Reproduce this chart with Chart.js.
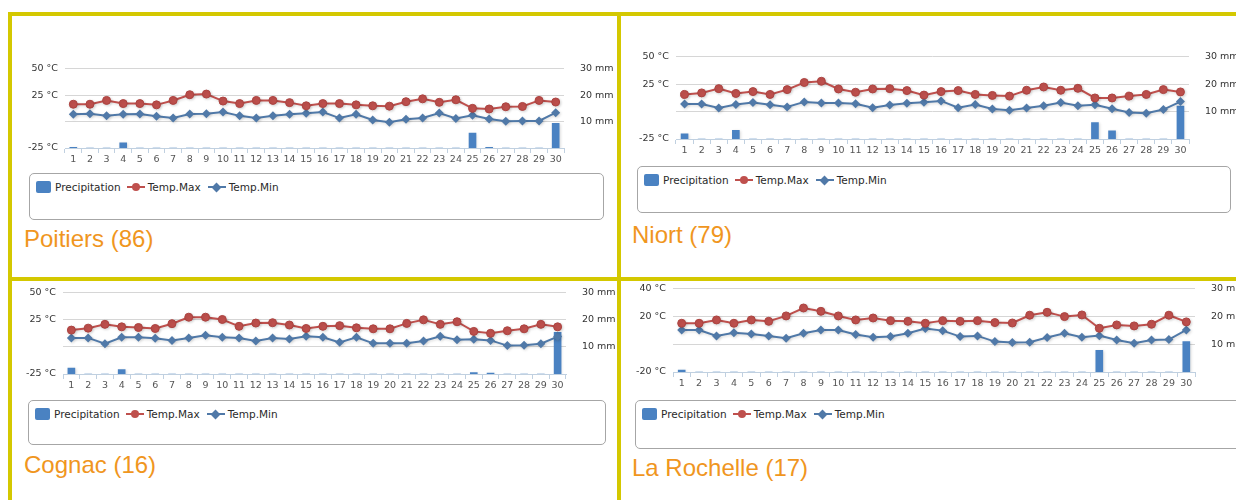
<!DOCTYPE html>
<html>
<head>
<meta charset="utf-8">
<script src="https://cdn.jsdelivr.net/npm/chart.js@4/dist/chart.umd.min.js"></script>
<style>
  html, body { margin: 0; padding: 0; background: #fff; }
  body { width: 1236px; height: 500px; overflow: hidden; position: relative; }
  .frame { position: absolute; background: #D4C800; }
  canvas { position: absolute; }
  .legend { position: absolute; border: 1px solid #A6A6A6; border-radius: 5px; box-sizing: border-box; background: #fff; }
  .items { position: absolute; left: 6px; top: 6px; height: 14px; display: flex; align-items: center; white-space: nowrap;
           font-family: "DejaVu Sans", sans-serif; font-size: 10.5px; color: #2a2a2a; }
  .title { position: absolute; font-family: "Liberation Sans", Arial, sans-serif; font-size: 24px; line-height: 24px; color: #F0961E; white-space: nowrap; }
</style>
</head>
<body>
<script>
const days = ['1', '2', '3', '4', '5', '6', '7', '8', '9', '10', '11', '12', '13', '14', '15',
              '16', '17', '18', '19', '20', '21', '22', '23', '24', '25', '26', '27', '28', '29', '30'];
const seriesNames = ['Precipitation', 'Temp.Max', 'Temp.Min'];
const cityNames = ['Poitiers (86)', 'Niort (79)', 'Cognac (16)', 'La Rochelle (17)'];

// precipitation (mm, right axis), max / min temperature (°C, left axis)
const poitiersRain = [0.3, 0, 0, 2, 0, 0, 0, 0, 0, 0, 0, 0, 0, 0, 0, 0, 0, 0, 0, 0, 0, 0, 0, 0, 5.6, 0.3, 0, 0, 0, 9.3];
const poitiersMax = [16.4, 16.4, 20, 17, 17, 15.8, 20, 25.4, 26, 19.4, 17, 20, 20, 17.9, 14.9, 17, 17, 15.8, 14.9, 14.6, 18.8, 21.5, 18.2, 20.6, 12.5, 11.9, 14, 14.3, 20, 18.5];
const poitiersMin = [6.9, 7.5, 5.4, 6.9, 7.2, 5.1, 3.3, 7.2, 7.5, 9, 5.4, 3.3, 5.4, 6.9, 7.8, 9, 3.3, 6.9, 1.5, -0.6, 2.1, 3.3, 8.1, 3, 6, 2.4, 0.3, 0.6, 0.6, 8.4];

const niortRain = [1.9, 0, 0, 3.2, 0, 0, 0, 0, 0, 0, 0, 0, 0, 0, 0, 0, 0, 0, 0, 0, 0, 0, 0, 0, 6, 3, 0, 0, 0, 12];
const niortMax = [15.6, 17, 20.9, 16.5, 18.2, 15.6, 20, 26.5, 27.6, 20.6, 17.6, 20.6, 20.9, 19.1, 15, 18.2, 19.1, 15.6, 14.7, 14.1, 19.4, 22.4, 19.4, 21.2, 12.4, 12.4, 14.1, 15.6, 20, 17.9];
const niortMin = [6.8, 6.8, 3.2, 6.5, 8.2, 6.2, 4.1, 8.8, 7.9, 7.9, 7.1, 3.5, 5.9, 7.6, 8.5, 9.7, 3.5, 6.5, 2.4, 1.2, 3.2, 5.3, 8.2, 5.3, 6.2, 2.6, -0.9, -1.5, 1.8, 9.1];

const cognacRain = [2.2, 0, 0, 1.6, 0, 0, 0, 0, 0, 0, 0, 0, 0, 0, 0, 0, 0, 0, 0, 0, 0, 0, 0, 0, 0.5, 0.3, 0, 0, 0, 15.4];
const cognacMax = [15.5, 17.3, 20.8, 18.5, 17.9, 17, 21.4, 27.4, 27.4, 25.3, 19, 22, 22.3, 20.2, 17, 19, 19.6, 17.6, 16.7, 16.7, 21.7, 25, 20.8, 23.2, 14.3, 12.5, 14.9, 16.7, 20.8, 18.5];
const cognacMin = [8.3, 8.3, 3, 8.9, 8.9, 8, 6, 8.3, 10.7, 8.9, 8.3, 5.4, 8.3, 7.4, 9.8, 8.9, 4.2, 8.9, 3.3, 3.3, 3.3, 5.4, 9.8, 6.5, 7.1, 6, 1.2, 1.5, 3, 9.5];

const rochelleRain = [0.7, 0, 0, 0, 0, 0, 0, 0, 0, 0, 0, 0, 0, 0, 0, 0, 0, 0, 0, 0, 0, 0, 0, 0, 7.8, 0, 0, 0, 0, 11];
const rochelleMax = [15.1, 15.1, 17.5, 15.1, 17.5, 16.5, 20.4, 26.1, 23.7, 20.4, 17.5, 18.9, 17, 16.5, 15.1, 17, 16.5, 17, 15.6, 15.3, 20.9, 23, 19.9, 21.1, 11.5, 13.9, 13.2, 14.4, 20.9, 16.1];
const rochelleMin = [10.3, 10.3, 6, 8.2, 7.4, 6, 4.3, 7.9, 10.3, 10.3, 7, 5, 5.5, 7.9, 11.3, 9.8, 5.5, 6, 1.9, 1.2, 1.4, 4.8, 7.9, 5, 6.2, 3.1, 0.7, 3.1, 3.4, 10.3];

// axis ticks
const tempTicksInland = [-25, 0, 25, 50];
const tempLabelsInland = ['-25 °C', '', '25 °C', '50 °C'];
const tempTicksCoast = [-20, 0, 20, 40];
const tempLabelsCoast = ['-20 °C', '', '20 °C', '40 °C'];
const rainTicks = [0, 10, 20, 30];
const rainLabels = ['', '10 mm', '20 mm', '30 mm'];

const RAIN_C = '#4A82C2';
const MAX_C = '#BF504D';
const MIN_C = '#5079A8';
const FONT = '"DejaVu Sans", sans-serif';
const AXIS_W = 55, PAD_T = 12, X_H = 22;

// frame lines
[[8, 12, 1228, 4], [8, 12, 4, 488], [617, 12, 4, 488], [8, 277, 1228, 4]].forEach(([l, t, w, h]) => {
    const d = document.createElement('div');
    d.className = 'frame';
    d.style.cssText = `left:${l}px;top:${t}px;width:${w}px;height:${h}px`;
    document.body.appendChild(d);
});

const panels = [
    { name: cityNames[0], rain: poitiersRain, max: poitiersMax, min: poitiersMin, ticks: tempTicksInland, labels: tempLabelsInland,
      plot: { l: 65, r: 564, t: 67, b: 148 }, legend: { x: 29, y: 173, w: 575, h: 47 }, title: { x: 24, y: 227 } },
    { name: cityNames[1], rain: niortRain, max: niortMax, min: niortMin, ticks: tempTicksInland, labels: tempLabelsInland,
      plot: { l: 676, r: 1189, t: 55, b: 139 }, legend: { x: 637, y: 166, w: 594, h: 47 }, title: { x: 632, y: 223 } },
    { name: cityNames[2], rain: cognacRain, max: cognacMax, min: cognacMin, ticks: tempTicksInland, labels: tempLabelsInland,
      plot: { l: 63, r: 566, t: 291, b: 374 }, legend: { x: 28, y: 400, w: 578, h: 45 }, title: { x: 24, y: 453 } },
    { name: cityNames[3], rain: rochelleRain, max: rochelleMax, min: rochelleMin, ticks: tempTicksCoast, labels: tempLabelsCoast,
      plot: { l: 673, r: 1195, t: 287, b: 372 }, legend: { x: 635, y: 400, w: 610, h: 49 }, title: { x: 632, y: 456 } }
];

// soft shadow like the original series
const shadowPlugin = {
    id: 'softShadow',
    beforeDatasetDraw(chart) {
        const ctx = chart.ctx;
        ctx.save();
        ctx.shadowColor = 'rgba(0,0,0,0.16)';
        ctx.shadowBlur = 3;
        ctx.shadowOffsetX = 1;
        ctx.shadowOffsetY = 1;
    },
    afterDatasetDraw(chart) {
        chart.ctx.restore();
    }
};

function makeLegend(p) {
    const box = document.createElement('div');
    box.className = 'legend';
    box.style.cssText = `left:${p.legend.x}px;top:${p.legend.y}px;width:${p.legend.w}px;height:${p.legend.h}px`;
    const row = document.createElement('div');
    row.className = 'items';

    const sq = document.createElement('span');
    sq.style.cssText = `display:inline-block;width:15px;height:12px;border-radius:2px;background:${RAIN_C};margin-right:4px`;
    row.appendChild(sq);
    row.appendChild(document.createTextNode(seriesNames[0]));

    [[MAX_C, 'circle'], [MIN_C, 'diamond']].forEach(([c, shape], i) => {
        const sym = document.createElement('span');
        sym.style.cssText = `position:relative;display:inline-block;width:18px;height:12px;margin:0 3px 0 ${i ? 7 : 6}px`;
        const line = document.createElement('span');
        line.style.cssText = `position:absolute;left:0;top:5px;width:18px;height:2px;background:${c}`;
        const mk = document.createElement('span');
        if (shape === 'circle') {
            mk.style.cssText = `position:absolute;left:5px;top:2px;width:8px;height:8px;border-radius:50%;background:${c}`;
        } else {
            mk.style.cssText = `position:absolute;left:5.5px;top:2.5px;width:7px;height:7px;background:${c};transform:rotate(45deg)`;
        }
        sym.appendChild(line);
        sym.appendChild(mk);
        row.appendChild(sym);
        row.appendChild(document.createTextNode(seriesNames[i + 1]));
    });
    box.appendChild(row);
    document.body.appendChild(box);

    const t = document.createElement('div');
    t.className = 'title';
    t.style.left = p.title.x + 'px';
    t.style.top = p.title.y + 'px';
    t.textContent = p.name;
    document.body.appendChild(t);
}

function makeChart(p) {
    const cv = document.createElement('canvas');
    const w = (p.plot.r - p.plot.l) + AXIS_W * 2;
    const h = (p.plot.b - p.plot.t) + PAD_T + X_H;
    cv.width = w;
    cv.height = h;
    cv.style.left = (p.plot.l - AXIS_W) + 'px';
    cv.style.top = (p.plot.t - PAD_T) + 'px';
    cv.style.width = w + 'px';
    cv.style.height = h + 'px';
    document.body.appendChild(cv);

    new Chart(cv, {
        data: {
            labels: days,
            datasets: [
                {
                    type: 'bar',
                    label: seriesNames[0],
                    data: p.rain,
                    yAxisID: 'yR',
                    backgroundColor: RAIN_C,
                    barThickness: 7,
                    order: 3
                },
                {
                    type: 'line',
                    label: seriesNames[1],
                    data: p.max,
                    yAxisID: 'yT',
                    borderColor: MAX_C,
                    backgroundColor: MAX_C,
                    borderWidth: 2,
                    tension: 0,
                    pointStyle: 'circle',
                    pointRadius: 4,
                    pointBorderColor: '#AC4340',
                    pointBorderWidth: 1,
                    order: 1
                },
                {
                    type: 'line',
                    label: seriesNames[2],
                    data: p.min,
                    yAxisID: 'yT',
                    borderColor: MIN_C,
                    backgroundColor: MIN_C,
                    borderWidth: 2,
                    tension: 0,
                    pointStyle: 'rectRot',
                    pointRadius: 4.5,
                    pointBorderWidth: 0,
                    order: 2
                }
            ]
        },
        options: {
            responsive: false,
            animation: false,
            events: [],
            layout: { padding: { top: PAD_T, left: 0, right: 0, bottom: 0 } },
            plugins: { legend: { display: false }, tooltip: { enabled: false } },
            scales: {
                x: {
                    type: 'category',
                    offset: true,
                    grid: { offset: true, drawOnChartArea: false, drawTicks: true, tickLength: 5, color: '#C0D0E0' },
                    border: { color: '#C0D0E0' },
                    ticks: { color: '#555', font: { family: FONT, size: 9.5 }, padding: 1, autoSkip: false, maxRotation: 0 },
                    afterFit: s => { s.height = X_H; }
                },
                yT: {
                    position: 'left',
                    min: p.ticks[0],
                    max: p.ticks[p.ticks.length - 1],
                    afterBuildTicks: s => { s.ticks = p.ticks.map(v => ({ value: v })); },
                    grid: {
                        drawTicks: false,
                        color: c => (c.tick && c.tick.value === p.ticks[0]) ? 'rgba(0,0,0,0)' : '#D6D6D6'
                    },
                    border: { display: false },
                    ticks: {
                        padding: 7,
                        color: '#333',
                        font: { family: FONT, size: 9.5 },
                        callback: v => p.labels[p.ticks.indexOf(v)]
                    },
                    afterFit: s => { s.width = AXIS_W; }
                },
                yR: {
                    position: 'right',
                    min: rainTicks[0],
                    max: rainTicks[rainTicks.length - 1],
                    afterBuildTicks: s => { s.ticks = rainTicks.map(v => ({ value: v })); },
                    grid: { display: false },
                    border: { display: false },
                    ticks: {
                        padding: 8,
                        color: '#333',
                        font: { family: FONT, size: 9.5 },
                        callback: v => rainLabels[rainTicks.indexOf(v)]
                    },
                    afterFit: s => { s.width = AXIS_W; }
                }
            }
        },
        plugins: [shadowPlugin]
    });
}

panels.forEach(p => {
    makeChart(p);
    makeLegend(p);
});
</script>
</body>
</html>
